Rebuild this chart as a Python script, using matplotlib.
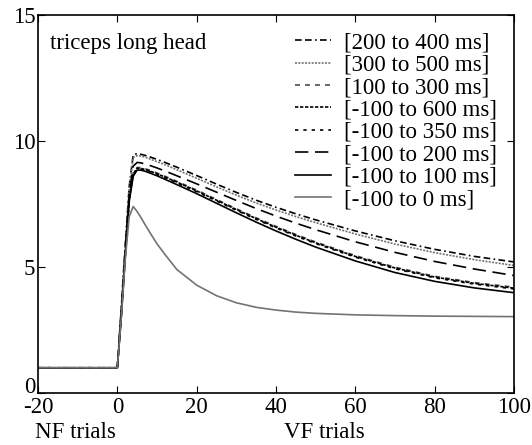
import matplotlib
matplotlib.use("Agg")
import matplotlib.pyplot as plt
import matplotlib.transforms as mtransforms

plt.rcParams['font.family'] = ['Liberation Serif', 'DejaVu Serif']
plt.rcParams['axes.unicode_minus'] = False

# trial index (NF trials < 0, VF trials >= 0)
trials = [-20, 0, 1, 2, 3, 4, 5, 6, 7, 8, 10, 12, 15, 20, 25, 30, 35, 40, 45, 50, 60, 70, 80, 90, 100]

labels = ['[200 to 400 ms]', '[300 to 500 ms]', '[100 to 300 ms]', '[-100 to 600 ms]',
          '[-100 to 350 ms]', '[-100 to 200 ms]', '[-100 to 100 ms]', '[-100 to 0 ms]']

w_200_400 = [1, 1, 3.4, 5.9, 8.2, 9.45, 9.5, 9.47, 9.43, 9.38, 9.27, 9.15, 8.96, 8.63, 8.29, 7.96,
             7.65, 7.37, 7.11, 6.87, 6.43, 6.04, 5.7, 5.42, 5.2]
w_300_500 = [1, 1, 3.3, 5.8, 8.1, 9.35, 9.42, 9.4, 9.36, 9.3, 9.18, 9.06, 8.86, 8.52, 8.18, 7.85,
             7.54, 7.26, 7.0, 6.76, 6.31, 5.91, 5.57, 5.29, 5.06]
w_100_300 = [1, 1, 3.1, 5.5, 7.7, 8.73, 8.95, 8.94, 8.9, 8.85, 8.73, 8.6, 8.4, 8.05, 7.68, 7.31,
             6.95, 6.61, 6.29, 5.99, 5.45, 4.99, 4.63, 4.38, 4.2]
w_m100_600 = [1, 1, 3.1, 5.5, 7.7, 8.7, 8.92, 8.91, 8.87, 8.82, 8.7, 8.57, 8.37, 8.02, 7.65, 7.28,
              6.92, 6.58, 6.26, 5.96, 5.42, 4.96, 4.6, 4.35, 4.16]
w_m100_350 = [1, 1, 3.1, 5.45, 7.65, 8.67, 8.89, 8.88, 8.84, 8.79, 8.67, 8.54, 8.34, 7.99, 7.62, 7.25,
              6.89, 6.55, 6.23, 5.93, 5.39, 4.93, 4.57, 4.32, 4.13]
w_m100_200 = [1, 1, 3.2, 5.6, 7.9, 9.0, 9.15, 9.13, 9.09, 9.04, 8.93, 8.81, 8.62, 8.3, 7.97, 7.64,
              7.32, 7.02, 6.74, 6.48, 6.0, 5.58, 5.22, 4.92, 4.66]
w_m100_100 = [1, 1, 3.0, 5.4, 7.6, 8.6, 8.85, 8.84, 8.8, 8.74, 8.62, 8.48, 8.27, 7.91, 7.53, 7.15,
              6.78, 6.43, 6.1, 5.79, 5.24, 4.78, 4.43, 4.17, 3.98]
w_m100_0 = [1, 1, 3.0, 5.3, 7.0, 7.4, 7.2, 6.95, 6.68, 6.42, 5.92, 5.5, 4.9, 4.28, 3.86, 3.58,
            3.4, 3.29, 3.21, 3.16, 3.1, 3.07, 3.05, 3.04, 3.03]

series = [w_200_400, w_300_500, w_100_300, w_m100_600, w_m100_350, w_m100_200, w_m100_100, w_m100_0]
styles = [
    dict(color='black', dashes=(4, 2, 4, 2, 1, 2)),
    dict(color='0.45', dashes=(1.2, 0.8)),
    dict(color='0.3', dashes=(3, 3)),
    dict(color='black', dashes=(2, 1)),
    dict(color='black', dashes=(2, 3)),
    dict(color='black', dashes=(8, 4)),
    dict(color='black', linestyle='-'),
    dict(color='0.45', linestyle='-'),
]

fig = plt.figure(figsize=(5.32, 4.45), dpi=100)
ax = fig.add_axes([0.0714, 0.1169, 0.8948, 0.8494])

for vals, lab, st in zip(series, labels, styles):
    ax.plot(trials, vals, label=lab, linewidth=1.2, **st)

ax.set_xlim(-20, 100)
ax.set_ylim(0, 15)
ax.set_xticks([-20, 0, 20, 40, 60, 80, 100])
ax.set_yticks([0, 5, 10, 15])
ax.tick_params(direction='in', top=True, right=True, length=5, labelsize=16.5)
ax.tick_params(axis='x', pad=3)
ax.tick_params(axis='y', pad=2)
for s in ax.spines.values():
    s.set_linewidth(1.2)

# the "0" on the y axis sits a little above the corner, clear of "-20"
lab0 = ax.get_yticklabels()[0]
lab0.set_transform(lab0.get_transform() + mtransforms.ScaledTranslation(0, 6 / 72, fig.dpi_scale_trans))

ax.text(0.025, 0.925, 'triceps long head', transform=ax.transAxes, fontsize=16.5, va='center')

fig.text(0.141, 0.027, 'NF trials', fontsize=16.5, va='center', ha='center')
fig.text(0.609, 0.027, 'VF trials', fontsize=16.5, va='center', ha='center')

ax.legend(loc='upper right', frameon=False, fontsize=16.5, handlelength=1.6,
          handletextpad=0.55, labelspacing=0.06, borderaxespad=0.35,
          bbox_to_anchor=(1.0, 1.0))

fig.savefig('out.png', dpi=100)
